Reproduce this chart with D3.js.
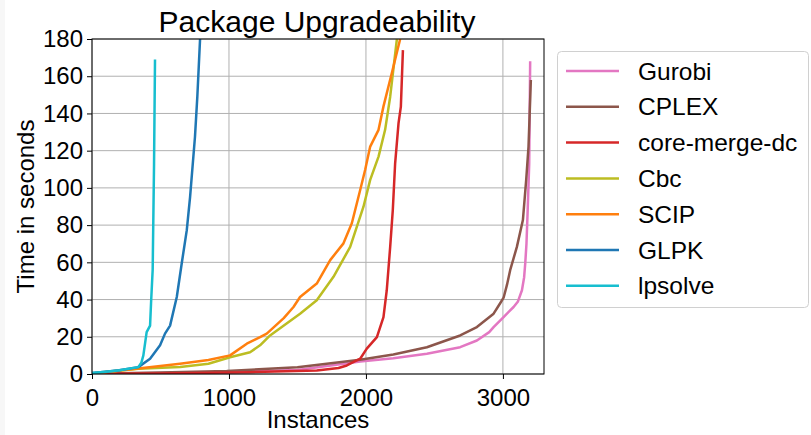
<!DOCTYPE html>
<html>
<head>
<meta charset="utf-8">
<script src="https://cdn.jsdelivr.net/npm/d3@7"></script>
<style>
  body { margin: 0; background: #fff; }
  svg { font-family: "Liberation Sans", Arial, sans-serif; }
</style>
</head>
<body>
<div id="chart"></div>
<script>
// solver names in legend order
const solvers = ["Gurobi", "CPLEX", "core-merge-dc", "Cbc", "SCIP", "GLPK", "lpsolve"];
const colors = ["#e377c2", "#8c564b", "#d62728", "#bcbd22", "#ff7f0e", "#1f77b4", "#17becf"];

// [instances solved, time in seconds]
const gurobi = [[0, 0.2], [500, 0.5], [984, 1], [1500, 2.2], [1958, 6.7], [2200, 8.5], [2445, 10.9], [2688, 14.4], [2810, 18], [2900, 22.5], [2932, 25.2], [3005, 30.6], [3053, 34.2], [3078, 36], [3110, 39], [3139, 45], [3155, 52], [3163, 59.4], [3172, 70], [3180, 86.3], [3192, 113], [3199, 168]];
const cplex = [[0, 0.2], [500, 0.8], [984, 1.6], [1500, 3.6], [1958, 7.6], [2200, 10.5], [2445, 14.4], [2688, 20.7], [2810, 25.2], [2932, 32.4], [2980, 38], [3005, 41], [3030, 48], [3053, 55.8], [3102, 68.3], [3146, 82.7], [3170, 104.3], [3187, 122.2], [3204, 158]];
const coreMergeDc = [[0, 0.1], [500, 0.3], [1154, 1], [1641, 1.9], [1800, 3.2], [1860, 4.6], [1958, 8.2], [2006, 13.6], [2080, 19.8], [2128, 30.6], [2152, 45], [2177, 68.3], [2196, 88], [2213, 113], [2238, 134.8], [2255, 143.7], [2270, 174]];
const cbc = [[0, 0.3], [338, 2.8], [643, 3.7], [850, 5.5], [1008, 9], [1154, 11.7], [1227, 15.4], [1300, 20.7], [1519, 32.4], [1641, 39.6], [1763, 52.2], [1885, 68.3], [1982, 89.9], [2031, 104.3], [2092, 116.8], [2140, 131.2], [2177, 149], [2226, 180]];
const scip = [[0, 0.3], [338, 3], [643, 5.5], [850, 7.5], [1008, 10], [1130, 16.3], [1227, 19.8], [1276, 21.7], [1400, 30], [1471, 36], [1519, 41.4], [1641, 48.6], [1739, 61.2], [1836, 70.2], [1897, 81], [1958, 98.9], [1994, 109.6], [2031, 122.2], [2092, 131.2], [2128, 143.8], [2189, 161.7], [2250, 180]];
const glpk = [[0, 0.5], [100, 1.2], [200, 2], [338, 3.7], [424, 8.2], [497, 15.4], [533, 21.7], [570, 26], [619, 41.4], [655, 59.4], [692, 77.3], [716, 95], [752, 127.6], [769, 149], [789, 180]];
const lpsolve = [[0, 0.5], [100, 1.2], [200, 2], [338, 3.7], [360, 6], [375, 10], [399, 22.5], [424, 26], [431, 38], [443, 56], [453, 113], [460, 169]];

const seriesData = [gurobi, cplex, coreMergeDc, cbc, scip, glpk, lpsolve];

const xTicks = [0, 1000, 2000, 3000];
const yTicks = [0, 20, 40, 60, 80, 100, 120, 140, 160, 180];

const W = 811, H = 435;
const margin = { top: 39, right: 267, bottom: 61, left: 92 };
const width = 544 - margin.left;
const height = 374 - margin.top;

const svg = d3.select("#chart").append("svg")
  .attr("width", W)
  .attr("height", H);

svg.append("rect").attr("x", 0).attr("y", 0).attr("width", 5).attr("height", H).attr("fill", "#f7f7f7");

const g = svg.append("g").attr("transform", `translate(${margin.left},${margin.top})`);

const x = d3.scaleLinear().domain([0, 3300]).range([0, width]);
const y = d3.scaleLinear().domain([0, 180]).range([height, 0]);

// grid
g.append("g").selectAll("line").data(xTicks).join("line")
  .attr("x1", d => x(d)).attr("x2", d => x(d))
  .attr("y1", 0).attr("y2", height)
  .attr("stroke", "#b0b0b0").attr("stroke-width", 1);
g.append("g").selectAll("line").data(yTicks).join("line")
  .attr("x1", 0).attr("x2", width)
  .attr("y1", d => y(d)).attr("y2", d => y(d))
  .attr("stroke", "#b0b0b0").attr("stroke-width", 1);

// lines
g.append("defs").append("clipPath").attr("id", "clip")
  .append("rect").attr("width", width).attr("height", height);

const line = d3.line().x(d => x(d[0])).y(d => y(d[1]));

g.append("g").attr("clip-path", "url(#clip)")
  .selectAll("path")
  .data(seriesData)
  .join("path")
  .attr("d", line)
  .attr("fill", "none")
  .attr("stroke", (d, i) => colors[i])
  .attr("stroke-width", 2.5)
  .attr("stroke-linejoin", "round");

// axes
const xAxis = g.append("g")
  .attr("transform", `translate(0,${height})`)
  .call(d3.axisBottom(x).tickValues(xTicks).tickFormat(d3.format("d")).tickSize(5).tickPadding(4));
const yAxis = g.append("g")
  .call(d3.axisLeft(y).tickValues(yTicks).tickSize(5).tickPadding(4));
[xAxis, yAxis].forEach(a => {
  a.selectAll("text").attr("font-size", 24).attr("fill", "#000").attr("font-family", "Liberation Sans, Arial, sans-serif");
  a.selectAll("line").attr("stroke", "#000");
  a.select(".domain").remove();
});
xAxis.selectAll("text").attr("dy", "0.95em");

// frame
g.append("rect").attr("width", width).attr("height", height)
  .attr("fill", "none").attr("stroke", "#000").attr("stroke-width", 1);

// title and labels
svg.append("text")
  .attr("x", margin.left + width / 2 - 1).attr("y", 32)
  .attr("text-anchor", "middle")
  .attr("font-size", 30)
  .text("Package Upgradeability");

svg.append("text")
  .attr("x", margin.left + width / 2).attr("y", 428)
  .attr("text-anchor", "middle")
  .attr("font-size", 24)
  .text("Instances");

svg.append("text")
  .attr("transform", `translate(34,${margin.top + height / 2}) rotate(-90)`)
  .attr("text-anchor", "middle")
  .attr("font-size", 24)
  .text("Time in seconds");

// legend
const legend = svg.append("g");
legend.append("rect")
  .attr("x", 557.5).attr("y", 51.5).attr("width", 251).attr("height", 256).attr("rx", 4)
  .attr("fill", "#fff").attr("stroke", "#d0d0d0");
solvers.forEach((s, i) => {
  const ly = 71 + i * 35.8;
  legend.append("line")
    .attr("x1", 566).attr("x2", 619).attr("y1", ly).attr("y2", ly)
    .attr("stroke", colors[i]).attr("stroke-width", 2.5);
  legend.append("text")
    .attr("x", 638).attr("y", ly).attr("dy", "0.35em")
    .attr("font-size", 24.5)
    .text(s);
});
</script>
</body>
</html>
